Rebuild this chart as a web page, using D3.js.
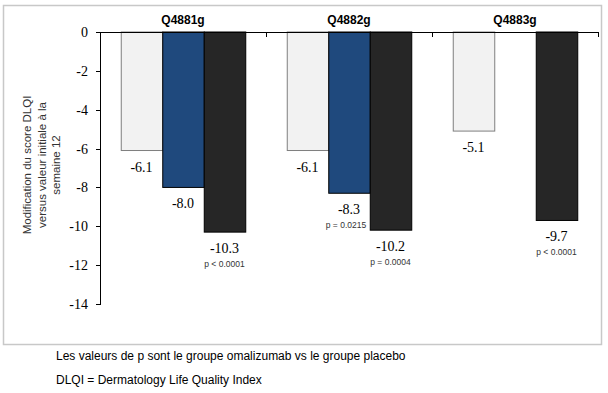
<!DOCTYPE html>
<html lang="fr">
<head>
<meta charset="UTF-8">
<title>DLQI</title>
<style>
    body { margin:0; background:#fff; }
    .axis path, .axis line { fill:none; stroke:#000; shape-rendering:crispEdges; }
    .cat { font-family:"Liberation Sans", Arial, sans-serif; font-size:12px; font-weight:bold; }
    .val { font-family:"Liberation Serif", serif; font-size:14px; }
    .pval { font-family:"Liberation Sans", Arial, sans-serif; font-size:8.5px; fill:#333; }
    .note { font-family:"Liberation Sans", Arial, sans-serif; font-size:12px; fill:#000; }
    .ytitle { font-family:"Liberation Sans", Arial, sans-serif; font-size:11.5px; fill:#333; }
</style>
</head>
<body>
<script src="https://cdn.jsdelivr.net/npm/d3@7"></script>
<script>
var categories = ["Q4881g", "Q4882g", "Q4883g"];
var series = ["placebo", "omalizumab 150", "omalizumab 300"];
var values = [
    [-6.1, -8.0, -10.3],
    [-6.1, -8.3, -10.2],
    [-5.1, null, -9.7]
];
var pLabels = [
    [null, null, "p < 0.0001"],
    [null, "p = 0.0215", "p = 0.0004"],
    [null, null, "p < 0.0001"]
];
var yTicks = [0, -2, -4, -6, -8, -10, -12, -14];
var colors = ["#f2f2f2", "#1f497d", "#262626"];
var strokes = ["#7f7f7f", "#000", "#000"];

var w = 608, h = 393;
var svg = d3.select("body").append("svg").attr("width", w).attr("height", h);

// cadre
svg.append("rect").attr("x", 3.5).attr("y", 5.5).attr("width", 598).attr("height", 339)
    .attr("fill", "none").attr("stroke", "#c8c8c8").attr("stroke-width", 1.5);

var mLeft = 100, mRight = 598, mTop = 32, mBottom = 304;
var y = d3.scaleLinear().domain([0, -14]).range([mTop, mBottom]);
var x0 = d3.scaleBand().domain(categories).range([mLeft, mRight]);
var x1 = d3.scaleBand().domain(series).range([0, x0.bandwidth()]).paddingInner(0).paddingOuter(0.5);

var groups = svg.selectAll("g.grp").data(values).enter().append("g")
    .attr("class", "grp")
    .attr("transform", function (d, i) { return "translate(" + x0(categories[i]) + ",0)"; });

groups.each(function (vals, gi) {
    var g = d3.select(this);
    vals.forEach(function (v, si) {
        if (v === null) return;
        var bx = x1(series[si]);
        g.append("rect")
            .attr("x", bx + 0.5)
            .attr("y", y(0))
            .attr("width", x1.bandwidth())
            .attr("height", y(v) - y(0))
            .attr("fill", colors[si])
            .attr("stroke", strokes[si])
            .attr("stroke-width", 1);
        g.append("text").attr("class", "val")
            .attr("x", bx + x1.bandwidth() / 2)
            .attr("y", y(v) + 21)
            .attr("text-anchor", "middle")
            .text(v.toFixed(1));
        if (pLabels[gi][si]) {
            g.append("text").attr("class", "pval")
                .attr("x", bx + x1.bandwidth() / 2 - (si === 1 ? 3 : 0))
                .attr("y", y(v) + 35)
                .attr("text-anchor", "middle")
                .text(pLabels[gi][si]);
        }
    });
});

// axe y
var yAxis = d3.axisLeft(y).tickValues(yTicks).tickSize(4).tickPadding(8)
    .tickFormat(function (d) { return d === 0 ? "0" : "-" + Math.abs(d); });
var gy = svg.append("g").attr("class", "axis").attr("transform", "translate(" + mLeft + ",0)").call(yAxis);
gy.selectAll("text")
    .style("font-family", "'Liberation Serif', 'Times New Roman', serif")
    .style("font-size", "14px")
    .attr("fill", "#000");

// axe x (en haut, graduations aux limites des catégories)
var xAxis = svg.append("g").attr("class", "axis");
xAxis.append("line").attr("x1", mLeft).attr("x2", mRight).attr("y1", mTop + 0.5).attr("y2", mTop + 0.5);
var bounds = categories.map(function (c) { return x0(c); }).concat([mRight]);
xAxis.selectAll("line.tk").data(bounds).enter().append("line").attr("class", "tk")
    .attr("x1", function (d) { return d; }).attr("x2", function (d) { return d; })
    .attr("y1", mTop).attr("y2", mTop + 5);

svg.selectAll("text.cat").data(categories).enter().append("text").attr("class", "cat")
    .attr("x", function (d) { return x0(d) + x0.bandwidth() / 2; })
    .attr("y", 24)
    .attr("text-anchor", "middle")
    .text(function (d) { return d; });

// titre axe y
var yTitle = ["Modification du score DLQI", "versus valeur initiale à la", "semaine 12"];
var yt = svg.append("text").attr("class", "ytitle")
    .attr("transform", "translate(31,165) rotate(-90)")
    .attr("text-anchor", "middle");
yTitle.forEach(function (t, i) {
    yt.append("tspan").attr("x", 0).attr("dy", i === 0 ? 0 : 14.5).text(t);
});

// notes
svg.append("text").attr("class", "note").attr("x", 56).attr("y", 360)
    .text("Les valeurs de p sont le groupe omalizumab vs le groupe placebo");
svg.append("text").attr("class", "note").attr("x", 56).attr("y", 384)
    .text("DLQI = Dermatology Life Quality Index");
</script>
</body>
</html>
